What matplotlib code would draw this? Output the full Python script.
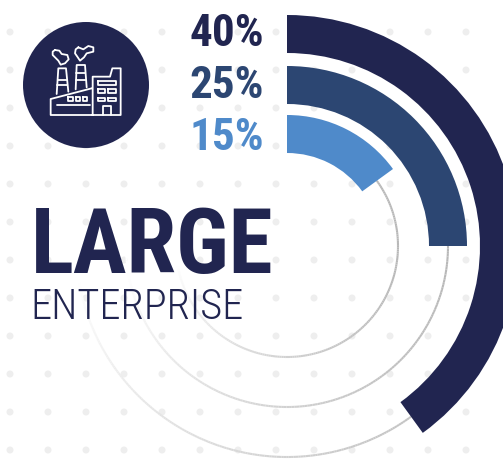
import numpy as np
import matplotlib
matplotlib.use('Agg')
import matplotlib.pyplot as plt
from matplotlib.patches import Wedge, Circle
from matplotlib.collections import LineCollection
from matplotlib.font_manager import fontManager

shares = [40, 25, 15]
labels = ['40%', '25%', '15%']
colors = ['#212550', '#2c4672', '#4f8aca']
title = 'LARGE'
subtitle = 'ENTERPRISE'

names = {f.name for f in fontManager.ttflist}
narrow = 'Roboto'
for name in ['Roboto Condensed', 'Liberation Sans Narrow', 'Archivo Narrow']:
    if name in names:
        narrow = name
        break

cx, cy = 287, 246
band_radii = [(193, 231), (142, 180), (93, 131)]
ring_radii = [211, 161, 111]
label_base = [46, 98, 150]

fig = plt.figure(figsize=(5.03, 4.75), dpi=100)
ax = fig.add_axes([0, 0, 1, 1])
ax.set_xlim(0, 503)
ax.set_ylim(475, 0)
ax.axis('off')

# background dots
for y in np.arange(32, 475, 38):
    for x in np.arange(10, 503, 38):
        ax.add_patch(Circle((x, y), 3.5, fc='#eeeeee', ec='none', zorder=1))

# thin rings start at the end of their band and fade out to the left
for r, share in zip(ring_radii, shares):
    start = -90 + share * 3.6
    deg = np.linspace(start, 185, 200)
    t = np.radians(deg)
    pts = np.column_stack([cx + r * np.cos(t), cy + r * np.sin(t)])
    segs = np.stack([pts[:-1], pts[1:]], axis=1)
    grey = np.clip(0.72 + 0.28 * (np.clip(deg[:-1], 0, None) / 170) ** 1.6, 0.72, 1)
    lc = LineCollection(segs, colors=[(g, g, g) for g in grey], linewidths=1.5, zorder=2)
    ax.add_collection(lc)

# share bands, clockwise from the top (y axis is inverted)
for share, (r0, r1), col in zip(shares, band_radii, colors):
    ax.add_patch(Wedge((cx, cy), r1, -90, -90 + share * 3.6, width=r1 - r0,
                       fc=col, ec='none', zorder=3))

for lab, y, col in zip(labels, label_base, colors):
    ax.text(264, y, lab, color=col, fontsize=32.5, fontweight='bold', family=narrow,
            ha='right', va='baseline', zorder=4)

ax.text(30.5, 273, title, color=colors[0], fontsize=64.5, fontweight='bold', family=narrow,
        ha='left', va='baseline', zorder=4)
ax.text(30.5, 319, subtitle, color=colors[0], fontsize=30.5, fontweight='light', family=narrow,
        ha='left', va='baseline', zorder=4)

# factory icon
ax.add_patch(Circle((86, 85), 63, fc=colors[0], ec='none', zorder=4))


def icon(pts, closed=False):
    p = np.array(pts, dtype=float)
    if closed:
        p = np.vstack([p, p[:1]])
    ax.plot(30 + p[:, 0] / 3, 30 + p[:, 1] / 3, color='white', lw=1.3,
            solid_joinstyle='round', solid_capstyle='round', zorder=5)


icon([(188, 255), (188, 140), (240, 140), (247, 115), (272, 115), (272, 255), (62, 255),
      (62, 207), (185, 175)])
icon([(80, 192), (85, 115), (108, 115), (115, 185)])
icon([(83, 150), (110, 150)])
icon([(82, 166), (112, 166)])
icon([(137, 178), (140, 105), (165, 105), (170, 172)])
icon([(139, 128), (166, 128)])
icon([(138, 150), (168, 150)])
icon([(82, 225), (180, 225)])
for x in (115, 137, 158):
    icon([(x, 200), (x + 13, 200), (x + 13, 213), (x, 213)], closed=True)
icon([(203, 153), (257, 153), (257, 165), (203, 165)], closed=True)
for x in (203, 235):
    for y in (178, 203):
        icon([(x, y), (x + 22, y), (x + 22, y + 10), (x, y + 10)], closed=True)
icon([(218, 255), (218, 228), (242, 228), (242, 255)])
icon([(75, 60), (88, 62), (95, 72), (112, 75), (116, 88), (105, 100), (92, 104), (85, 92),
      (78, 85), (68, 75), (68, 65)], closed=True)
icon([(145, 52), (160, 58), (175, 48), (190, 52), (190, 65), (170, 70), (162, 82), (150, 92),
      (142, 80), (135, 70), (137, 58)], closed=True)

fig.savefig('out.png', dpi=100, facecolor='white')
